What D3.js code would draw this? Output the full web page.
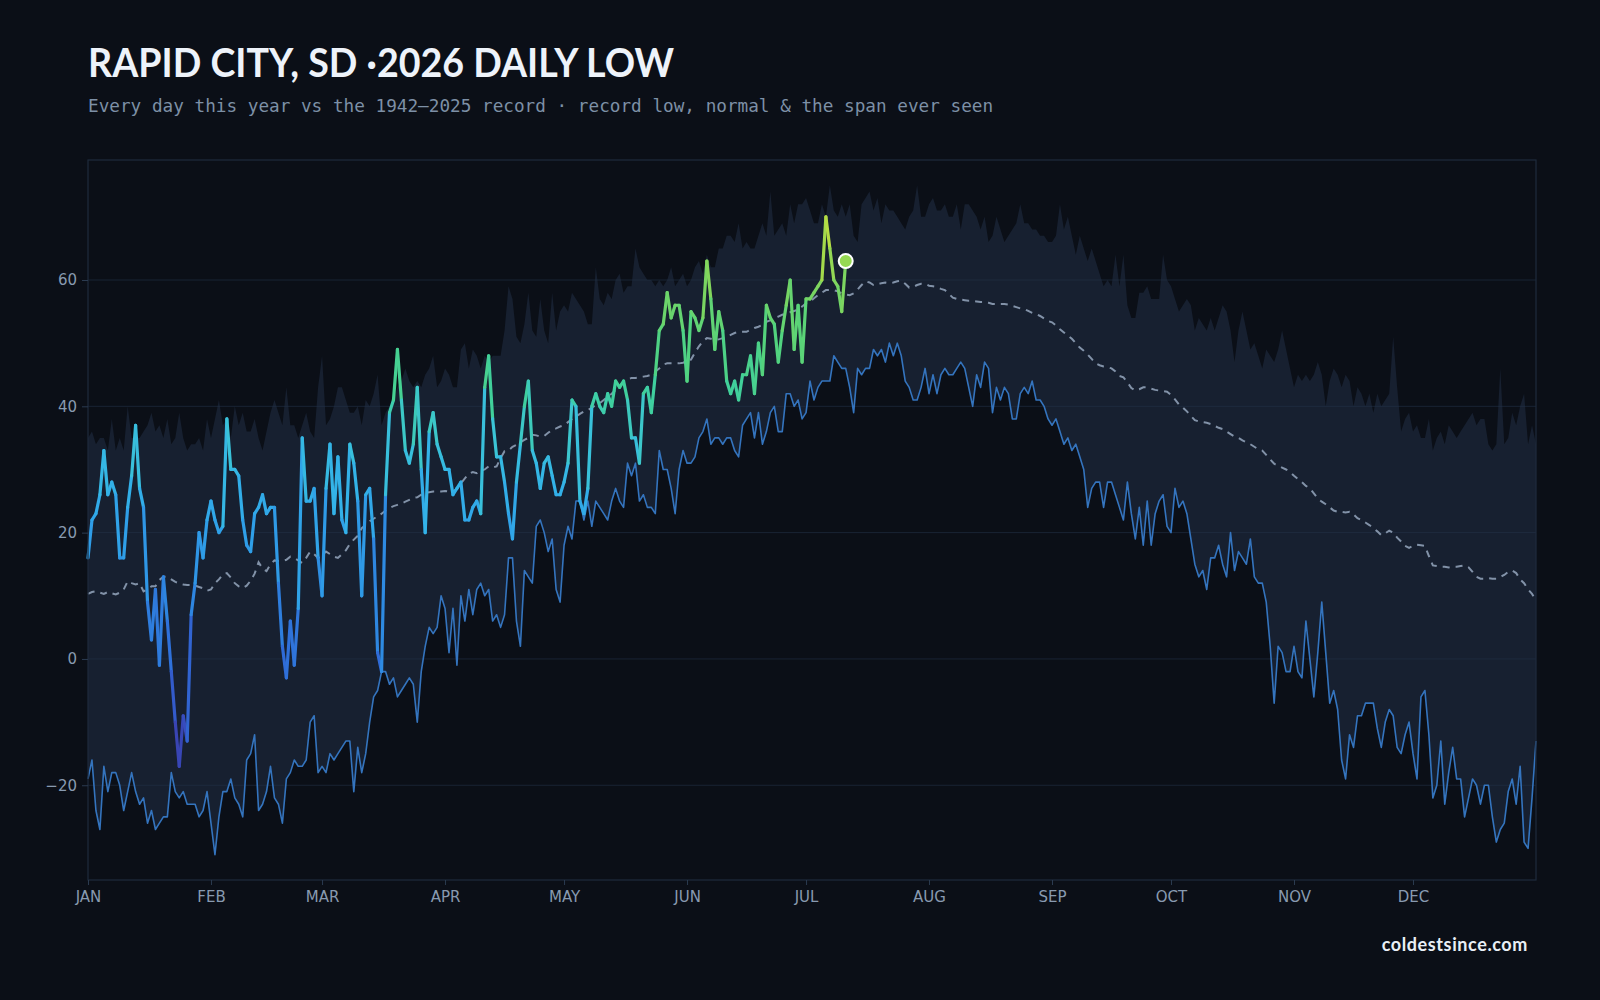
<!DOCTYPE html>
<html>
<head>
<meta charset="utf-8">
<script src="https://cdn.jsdelivr.net/npm/d3@7/dist/d3.min.js"></script>
<style>
  html, body { margin: 0; padding: 0; background: #0b0f17; }
  svg { display: block; }
</style>
</head>
<body>
<svg id="chart"></svg>
<script>
// month ticks (day of year, 0 = Jan 1)
var monthLabels = ["JAN", "FEB", "MAR", "APR", "MAY", "JUN", "JUL", "AUG", "SEP", "OCT", "NOV", "DEC"];
var monthStarts = [0, 31, 59, 90, 120, 151, 181, 212, 243, 273, 304, 334];
var yTicks = [-20, 0, 20, 40, 60];

// highest daily low on record, 1942-2025 (366 days)
var recordHigh = [
  35, 36, 34, 35, 35, 33, 38, 33, 35, 33,
  40, 35, 35, 35, 36, 37, 39, 36, 37, 35,
  38, 34, 35, 39, 35, 33, 34, 34, 35, 33,
  38, 35, 38, 41, 37, 38, 35, 40, 37, 39,
  36, 36, 38, 35, 33, 36, 39, 41, 39, 37,
  43, 37, 37, 35, 37, 39, 36, 35, 43, 48,
  37, 38, 40, 43, 43, 41, 39, 39, 40, 37,
  41, 40, 42, 45, 37, 39, 40, 41, 43, 44,
  46, 44, 43, 44, 43, 45, 46, 48, 43, 44,
  46, 45, 43, 43, 49, 50, 46, 49, 48, 46,
  48, 47, 48, 48, 48, 52, 59, 57, 51, 50,
  53, 58, 52, 51, 57, 52, 50, 58, 52, 55,
  56, 55, 58, 57, 56, 55, 53, 53, 62, 57,
  56, 58, 57, 60, 61, 58, 59, 59, 65, 62,
  61, 60, 60, 59, 60, 59, 60, 62, 59, 60,
  61, 59, 60, 62, 63, 61, 64, 62, 62, 65,
  65, 67, 67, 66, 69, 65, 66, 65, 65, 67,
  69, 67, 74, 67, 68, 69, 67, 72, 69, 72,
  72, 73, 71, 69, 69, 72, 70, 75, 71, 70,
  72, 70, 72, 67, 66, 72, 73, 74, 71, 73,
  69, 72, 71, 71, 70, 69, 68, 70, 71, 75,
  70, 70, 72, 73, 71, 71, 72, 70, 70, 72,
  68, 72, 72, 71, 70, 68, 70, 66, 67, 70,
  68, 66, 67, 68, 69, 72, 69, 69, 68, 68,
  67, 67, 66, 66, 67, 72, 68, 70, 67, 64,
  67, 65, 63, 65, 63, 61, 59, 60, 59, 64,
  59, 64, 56, 54, 54, 58, 58, 59, 57, 57,
  57, 64, 60, 59, 57, 55, 56, 57, 56, 52,
  54, 53, 52, 54, 52, 54, 56, 55, 52, 47,
  52, 55, 52, 49, 50, 48, 46, 49, 48, 47,
  49, 52, 49, 46, 43, 45, 44, 45, 44, 45,
  47, 45, 40, 44, 46, 45, 43, 45, 44, 40,
  43, 42, 40, 42, 39, 42, 40, 41, 42, 51,
  43, 36, 38, 39, 36, 37, 35, 35, 38, 33,
  35, 36, 34, 37, 36, 35, 36, 37, 38, 39,
  37, 38, 38, 34, 33, 34, 46, 34, 35, 39,
  37, 40, 42, 34, 37, 34
];

// lowest daily low on record (366 days)
var recordLow = [
  -19, -16, -24, -27, -17, -21, -18, -18, -20, -24,
  -21, -18, -21, -23, -22, -26, -24, -27, -26, -25,
  -25, -18, -21, -22, -21, -23, -23, -23, -25, -24,
  -21, -26, -31, -25, -21, -21, -19, -22, -23, -25,
  -16, -15, -12, -24, -23, -21, -17, -22, -23, -26,
  -19, -18, -16, -17, -17, -16, -10, -9, -18, -17,
  -18, -15, -16, -15, -14, -13, -13, -21, -14, -18,
  -15, -10, -6, -5, -2, -2, -4, -3, -6, -5,
  -4, -3, -4, -10, -2, 2, 5, 4, 5, 10,
  8, 1, 8, -1, 10, 6, 11, 7, 11, 12,
  10, 11, 6, 7, 5, 7, 16, 16, 6, 2,
  14, 13, 12, 21, 22, 20, 17, 19, 11, 9,
  18, 21, 19, 25, 25, 22, 25, 21, 25, 24,
  23, 22, 25, 27, 25, 24, 31, 29, 31, 25,
  26, 24, 24, 23, 33, 30, 30, 27, 23, 30,
  33, 31, 31, 32, 35, 36, 38, 34, 35, 35,
  34, 35, 35, 33, 32, 37, 38, 39, 35, 39,
  34, 36, 39, 40, 36, 36, 42, 42, 40, 41,
  38, 39, 44, 41, 43, 44, 44, 44, 48, 47,
  46, 46, 43, 39, 46, 45, 46, 46, 49, 48,
  49, 47, 50, 48, 50, 48, 44, 43, 41, 41,
  43, 46, 42, 45, 42, 45, 46, 45, 45, 46,
  47, 46, 43, 40, 45, 43, 47, 46, 39, 43,
  41, 43, 42, 38, 38, 42, 43, 42, 44, 41,
  41, 40, 38, 37, 38, 36, 34, 35, 33, 34,
  32, 30, 24, 27, 28, 28, 24, 28, 28, 26,
  24, 22, 28, 23, 19, 24, 18, 25, 18, 23,
  25, 26, 21, 20, 27, 24, 25, 23, 19, 15,
  13, 14, 11, 16, 16, 18, 15, 13, 20, 14,
  17, 16, 15, 19, 13, 12, 12, 9, 2, -7,
  2, 1, -2, -2, 2, -2, -3, 6, 0, -6,
  1, 9, 1, -7, -5, -8, -16, -19, -12, -14,
  -9, -9, -7, -7, -7, -11, -14, -10, -8, -9,
  -14, -15, -12, -10, -15, -19, -6, -5, -12, -22,
  -20, -13, -23, -18, -14, -19, -19, -25, -22, -19,
  -20, -23, -20, -20, -25, -29, -27, -26, -21, -19,
  -23, -17, -29, -30, -22, -13
];

// normal daily low (366 days)
var normalLow = [
  10.3, 10.6, 10.7, 10.5, 10.3, 10.6, 10.4, 10.2, 10.5, 11.0,
  12.3, 12.0, 11.8, 12.0, 10.7, 11.0, 11.5, 11.5, 12.5, 13.0,
  13.0, 12.6, 12.2, 12.0, 11.8, 11.7, 11.7, 11.6, 11.4, 11.2,
  10.8, 11.0, 12.0, 12.6, 13.4, 13.6, 12.9, 12.0, 11.5, 11.2,
  11.6, 12.4, 13.5, 15.3, 14.3, 13.9, 15.0, 15.6, 15.5, 15.5,
  15.7, 16.2, 16.0, 15.6, 15.2, 16.0, 17.0, 16.6, 16.0, 16.4,
  17.0, 16.6, 16.2, 16.0, 16.6, 17.2, 18.2, 18.9, 19.5, 20.7,
  21.2, 21.8, 22.2, 22.6, 23.0, 23.5, 23.9, 24.2, 24.4, 24.6,
  24.9, 25.2, 25.5, 25.6, 26.0, 26.3, 26.4, 26.5, 26.5, 26.5,
  26.6, 26.5, 26.5, 27.0, 27.8, 28.6, 29.3, 29.6, 29.4, 29.8,
  30.0, 30.5, 30.3, 30.5, 31.8, 32.9, 33.0, 33.6, 33.9, 34.3,
  34.7, 35.0, 35.5, 35.4, 35.2, 35.3, 35.8, 36.3, 36.5, 36.8,
  37.0, 37.5, 38.0, 38.4, 38.8, 39.2, 39.4, 39.8, 40.2, 40.5,
  41.0, 41.5, 42.0, 42.6, 43.2, 43.9, 44.2, 44.5, 44.5, 44.6,
  44.7, 44.8, 45.0, 45.5, 46.0, 46.6, 46.8, 46.8, 46.8, 46.8,
  46.9, 47.2, 47.4, 48.5, 49.5, 50.3, 50.8, 50.7, 50.5, 50.6,
  50.8, 51.0, 51.3, 51.6, 51.8, 51.8, 51.8, 52.1, 52.4, 52.6,
  52.9, 53.4, 53.6, 53.9, 54.2, 54.5, 54.7, 54.9, 55.1, 55.3,
  55.8, 56.3, 56.6, 57.1, 57.6, 58.0, 58.4, 58.4, 58.4, 58.2,
  57.9, 57.7, 57.6, 57.9, 58.5, 59.2, 59.8, 59.6, 59.2, 59.3,
  59.5, 59.6, 59.5, 59.6, 59.8, 59.9, 59.4, 58.8, 58.9, 59.2,
  59.4, 59.4, 59.1, 59.0, 58.9, 58.6, 58.4, 57.8, 57.2, 57.0,
  56.9, 56.8, 56.7, 56.7, 56.6, 56.5, 56.5, 56.4, 56.2, 56.2,
  56.2, 56.2, 56.1, 55.9, 55.7, 55.5, 55.4, 55.1, 54.8, 54.6,
  54.3, 53.9, 53.5, 53.3, 52.8, 52.2, 51.7, 51.2, 50.7, 50.0,
  49.3, 48.8, 48.2, 47.5, 46.8, 46.5, 46.3, 46.2, 46.0, 45.5,
  44.8, 44.6, 43.8, 42.9, 42.5, 42.7, 43.0, 43.0, 42.8, 42.6,
  42.5, 42.4, 42.3, 41.8, 41.1, 40.3, 39.8, 39.2, 38.5, 37.8,
  37.6, 37.5, 37.4, 37.2, 36.9, 36.6, 36.4, 36.0, 35.6, 35.2,
  35.0, 34.6, 34.3, 34.0, 33.6, 33.2, 33.0, 32.3, 31.6, 30.9,
  30.6, 30.3, 30.0, 29.6, 29.0, 28.5, 28.0, 27.4, 27.0, 26.2,
  25.4, 24.9, 24.5, 24.0, 23.5, 23.3, 23.3, 23.2, 23.3, 22.9,
  22.3, 22.0, 21.6, 21.2, 20.7, 20.2, 19.6, 19.9, 20.3, 20.0,
  19.2, 18.6, 17.9, 17.6, 17.9, 18.1, 18.0, 17.9, 16.3, 14.8,
  14.7, 14.6, 14.6, 14.5, 14.6, 14.6, 14.7, 14.8, 14.5, 13.8,
  13.0, 12.7, 12.7, 12.8, 12.7, 12.7, 13.0, 13.3, 13.8, 14.0,
  13.6, 12.6, 12.0, 11.0, 10.3, 9.3
];

// 2026 daily lows so far (Jan 1 .. Jul 11)
var lows2026 = [
  16, 22, 23, 26, 33, 26, 28, 26, 16, 16,
  24, 29, 37, 27, 24, 9, 3, 11, -1, 13,
  6, -2, -10, -17, -9, -13, 7, 12, 20, 16,
  22, 25, 22, 20, 21, 38, 30, 30, 29, 22,
  18, 17, 23, 24, 26, 23, 24, 24, 12, 2,
  -3, 6, -1, 8, 35, 25, 25, 27, 16, 10,
  27, 34, 23, 32, 22, 20, 34, 31, 25, 10,
  26, 27, 19, 1, -2, 26, 39, 41, 49, 41,
  33, 31, 34, 43, 30, 20, 36, 39, 34, 32,
  30, 30, 26, 27, 28, 22, 22, 24, 25, 23,
  43, 48, 38, 32, 32, 28, 23, 19, 28, 34,
  40, 44, 33, 31, 27, 31, 32, 29, 26, 26,
  28, 31, 41, 40, 25, 23, 27, 40, 42, 40,
  39, 42, 40, 44, 43, 44, 41, 35, 35, 31,
  42, 43, 39, 45, 52, 53, 58, 54, 56, 56,
  52, 44, 55, 54, 52, 54, 63, 57, 49, 55,
  52, 44, 42, 44, 41, 45, 45, 48, 42, 50,
  45, 56, 54, 53, 47, 52, 56, 60, 49, 56,
  47, 57, 57, 58, 59, 60, 70, 65, 60, 59,
  55, 63
];

var dimensions = {
  width: 1600,
  height: 1000,
  margin: {
    top: 160,
    right: 64,
    bottom: 120,
    left: 88,
  },
};
dimensions.boundedWidth =
  dimensions.width - dimensions.margin.left - dimensions.margin.right;
dimensions.boundedHeight =
  dimensions.height - dimensions.margin.top - dimensions.margin.bottom;

var svg = d3
  .select("#chart")
  .attr("width", dimensions.width)
  .attr("height", dimensions.height);

svg
  .append("rect")
  .attr("width", dimensions.width)
  .attr("height", dimensions.height)
  .attr("fill", "#0b0f17");

// title block
svg
  .append("text")
  .attr("x", 88)
  .attr("y", 77)
  .attr("font-family", "Lato, 'Open Sans', sans-serif")
  .attr("font-weight", 700)
  .attr("font-size", 41)
  .attr("fill", "#eef3fa")
  .attr("textLength", 586)
  .attr("lengthAdjust", "spacingAndGlyphs")
  .text("RAPID CITY, SD \u00b72026 DAILY LOW");

svg
  .append("text")
  .attr("x", 88)
  .attr("y", 112)
  .attr("font-family", "'DejaVu Sans Mono', monospace")
  .attr("font-size", 17.7)
  .attr("fill", "#7d90a6")
  .text("Every day this year vs the 1942\u20132025 record \u00b7 record low, normal & the span ever seen");

svg
  .append("text")
  .attr("x", 1528)
  .attr("y", 951)
  .attr("text-anchor", "end")
  .attr("font-family", "Lato, 'Open Sans', sans-serif")
  .attr("font-weight", 700)
  .attr("font-size", 18)
  .attr("letter-spacing", 0.6)
  .attr("fill", "#e9eff6")
  .text("coldestsince.com");

var xScale = d3
  .scaleLinear()
  .domain([0, 365])
  .range([0, dimensions.boundedWidth]);

var yScale = d3
  .scaleLinear()
  .domain([-35, 79])
  .range([dimensions.boundedHeight, 0]);

var bounds = svg
  .append("g")
  .attr(
    "transform",
    "translate(" + dimensions.margin.left + "," + dimensions.margin.top + ")"
  );

// span ever seen: record low up to record high
var band = d3
  .area()
  .x(function (d, i) {
    return xScale(i);
  })
  .y0(function (d, i) {
    return yScale(recordLow[i]);
  })
  .y1(function (d) {
    return yScale(d);
  });

bounds
  .append("path")
  .datum(recordHigh)
  .attr("d", band)
  .attr("fill", "#172030");

// gridlines
bounds
  .selectAll(".grid")
  .data(yTicks)
  .enter()
  .append("line")
  .attr("x1", 0)
  .attr("x2", dimensions.boundedWidth)
  .attr("y1", function (d) {
    return yScale(d);
  })
  .attr("y2", function (d) {
    return yScale(d);
  })
  .attr("stroke", "#233247")
  .attr("stroke-opacity", 0.6)
  .attr("stroke-width", 1);

var line = d3
  .line()
  .x(function (d, i) {
    return xScale(i);
  })
  .y(function (d) {
    return yScale(d);
  });

// normal
bounds
  .append("path")
  .datum(normalLow)
  .attr("d", line)
  .attr("fill", "none")
  .attr("stroke", "#8292a8")
  .attr("stroke-width", 2)
  .attr("stroke-dasharray", "7,6");

// record low
bounds
  .append("path")
  .datum(recordLow)
  .attr("d", line)
  .attr("fill", "none")
  .attr("stroke", "#3474be")
  .attr("stroke-width", 1.6)
  .attr("stroke-linejoin", "round");

// this year, each day coloured by how warm it was
var colorScale = d3
  .scaleLinear()
  .domain([-17, -10, 0, 10, 20, 28, 35, 42, 50, 58, 65, 70])
  .range([
    "#3b38a4", "#3650c2", "#2f6cd8", "#2e86e0", "#2f9fe8", "#33b3e8",
    "#3bc5d6", "#3fcf9e", "#52d37e", "#76d563", "#a3da4b", "#c8e03c",
  ])
  .clamp(true);

var segments = d3.pairs(lows2026.map(function (v, i) {
  return { day: i, value: v };
}));

bounds
  .selectAll(".seg")
  .data(segments)
  .enter()
  .append("line")
  .attr("x1", function (d) {
    return xScale(d[0].day);
  })
  .attr("y1", function (d) {
    return yScale(d[0].value);
  })
  .attr("x2", function (d) {
    return xScale(d[1].day);
  })
  .attr("y2", function (d) {
    return yScale(d[1].value);
  })
  .attr("stroke", function (d) {
    return colorScale((d[0].value + d[1].value) / 2);
  })
  .attr("stroke-width", 3.2)
  .attr("stroke-linecap", "round");

var lastDay = lows2026.length - 1;
bounds
  .append("circle")
  .attr("cx", xScale(lastDay))
  .attr("cy", yScale(lows2026[lastDay]))
  .attr("r", 7)
  .attr("fill", colorScale(lows2026[lastDay]))
  .attr("stroke", "#ffffff")
  .attr("stroke-width", 2);

// frame
bounds
  .append("rect")
  .attr("width", dimensions.boundedWidth)
  .attr("height", dimensions.boundedHeight)
  .attr("fill", "none")
  .attr("stroke", "#1e2b3c")
  .attr("stroke-width", 1.2);

// axes
var yAxis = d3.axisLeft(yScale).tickValues(yTicks).tickSize(6).tickPadding(5);
var yAxisGroup = bounds.append("g").call(yAxis);

var xAxis = d3
  .axisBottom(xScale)
  .tickValues(monthStarts)
  .tickFormat(function (d, i) {
    return monthLabels[i];
  })
  .tickSize(5)
  .tickPadding(6);
var xAxisGroup = bounds
  .append("g")
  .attr("transform", "translate(0," + dimensions.boundedHeight + ")")
  .call(xAxis);

[yAxisGroup, xAxisGroup].forEach(function (g) {
  g.select(".domain").remove();
  g.selectAll(".tick line").attr("stroke", "#2b3b50");
  g.selectAll(".tick text")
    .attr("fill", "#889ab0")
    .attr("font-family", "'DejaVu Sans', sans-serif")
    .attr("font-size", 15);
});
</script>
</body>
</html>
